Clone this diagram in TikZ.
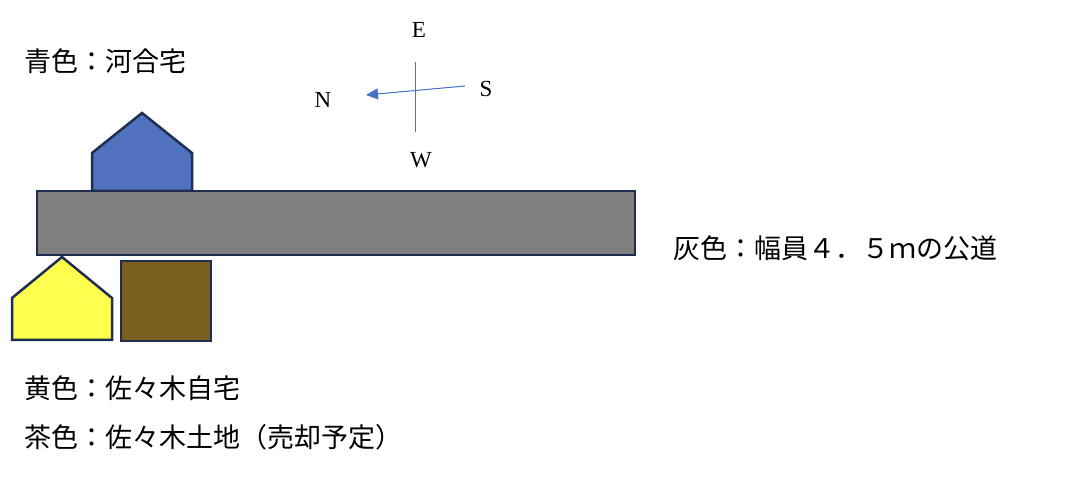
\documentclass[tikz,border=0pt]{standalone}
\usepackage{fontspec}
\setmainfont{Liberation Serif}
\newfontfamily\jfont{Noto Sans CJK JP}
\usetikzlibrary{arrows.meta}
\definecolor{edgeblue}{HTML}{1F2D50}
\definecolor{houseblue}{HTML}{4F71BE}
\definecolor{roadgray}{HTML}{7F7F7F}
\definecolor{houseyellow}{HTML}{FFFF4F}
\definecolor{landbrown}{HTML}{7B5F20}
\definecolor{compassblue}{HTML}{4472C4}
\tikzset{
  shapeline/.style={draw=edgeblue, line width=2.5pt, line join=miter},
  jlabel/.style={anchor=west, inner sep=0pt, font=\jfont\fontsize{27}{31}\selectfont},
  dirlabel/.style={inner sep=0pt, font=\fontsize{23}{27}\selectfont},
  compassline/.style={draw=compassblue, line width=1pt}
}
\begin{document}
\begin{tikzpicture}[x=1pt,y=-1pt]
\useasboundingbox (0,0) rectangle (1088,478);
% houses and land
\filldraw[shapeline, fill=houseblue] (92,191) -- (92,153) -- (142,113) -- (192,153) -- (192,191) -- cycle;
\filldraw[shapeline, fill=houseyellow] (12,340) -- (12,298) -- (62,257) -- (112,298) -- (112,340) -- cycle;
\filldraw[shapeline, fill=landbrown] (121,261) rectangle (211,341);
\filldraw[shapeline, fill=roadgray] (37,191) rectangle (635,255);
% compass
\coordinate (ctop) at (415,62);
\coordinate (cbot) at (415,132);
\coordinate (ctail) at (465,86);
\coordinate (chead) at (366,95);
\draw[compassline] (ctop) -- (cbot);
\draw[compassline, -{Triangle[length=12pt,width=11pt]}, fill=compassblue] (ctail) -- (chead);
\node[dirlabel] (E) at (419,30) {E};
\node[dirlabel] (N) at (323,100) {N};
\node[dirlabel] (S) at (486,89) {S};
\node[dirlabel] (W) at (421,160) {W};
% labels
\node[jlabel] (blue) at (24,61) {青色：河合宅};
\node[jlabel] (gray) at (673,248) {灰色：幅員４．５ｍの公道};
\node[jlabel] (yellow) at (24,388) {黄色：佐々木自宅};
\node[jlabel] (brown) at (24,437) {茶色：佐々木土地（売却予定）};
\end{tikzpicture}
\end{document}
